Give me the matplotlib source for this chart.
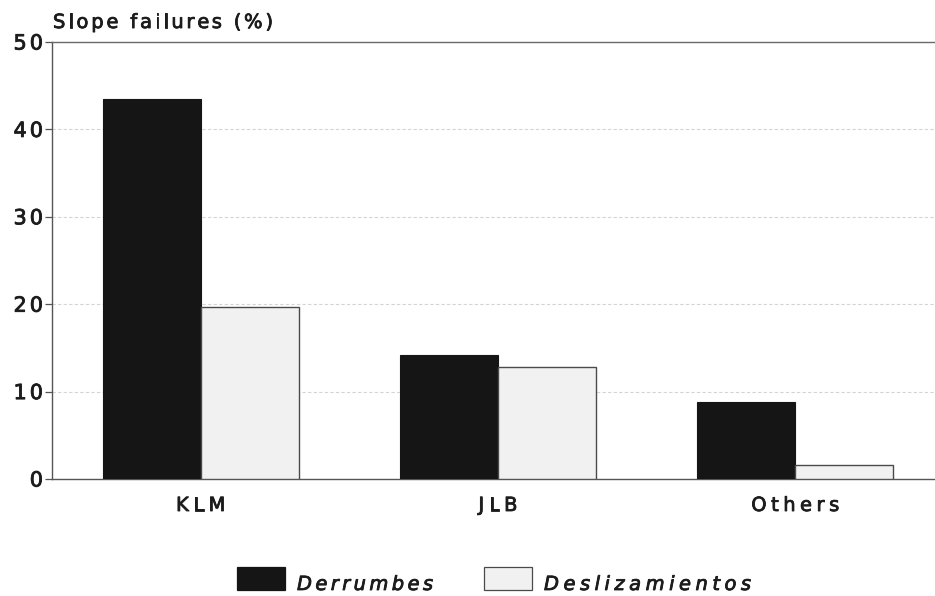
import matplotlib
matplotlib.use("Agg")
import matplotlib.pyplot as plt
import matplotlib.patheffects as pe
from matplotlib.font_manager import FontProperties
from matplotlib.patches import Rectangle
import numpy as np

categories = ["KLM", "JLB", "Others"]
derrumbes = [43.5, 14.2, 8.8]
deslizamientos = [19.7, 12.8, 1.6]
yticks = [0, 10, 20, 30, 40, 50]
series_names = ["Derrumbes", "Deslizamientos"]

W, H = 935, 596
TEXT_COLOR = "#1c1c1c"
DARK = "#151515"
LIGHT = "#f1f1f1"
EDGE = "#4a4a4a"

plt.rcParams["font.family"] = ["DejaVu Sans"]

fig = plt.figure(figsize=(W / 100, H / 100), dpi=100)
ax = fig.add_axes([52 / W, 1 - 479 / H, (W - 52) / W, (479 - 42) / H])
renderer = fig.canvas.get_renderer()


def px_to_fig(x, y):
    return x / W, 1 - y / H


def spaced_text(x, y, s, size, ha="left", style="normal", track=3.5):
    """Draw a string with extra letter spacing; x, y in pixels from top-left,
    y is the baseline."""
    prop = FontProperties(family="DejaVu Sans", size=size, style=style)

    def width(t):
        w, _, _ = renderer.get_text_width_height_descent(t, prop, ismath=False)
        return w

    ref = width("H")
    offsets = [width(s[:i] + "H") - ref if i else 0.0 for i in range(len(s))]
    offsets = [o + i * track for i, o in enumerate(offsets)]
    total = offsets[-1] + width(s[-1])
    if ha == "center":
        x0 = x - total / 2
    elif ha == "right":
        x0 = x - total
    else:
        x0 = x
    for ch, o in zip(s, offsets):
        if ch == " ":
            continue
        fx, fy = px_to_fig(x0 + o, y)
        fig.text(fx, fy, ch, fontproperties=prop, color=TEXT_COLOR,
                 ha="left", va="baseline",
                 path_effects=[pe.withStroke(linewidth=0.6, foreground=TEXT_COLOR)])


x = np.arange(len(categories))
w = 0.33
ax.bar(x - w / 2, derrumbes, width=w, color=DARK, edgecolor=DARK,
       linewidth=0.8, zorder=3)
ax.bar(x + w / 2, deslizamientos, width=w, color=LIGHT, edgecolor=EDGE,
       linewidth=1.0, zorder=3)

ax.set_xlim(-0.5, 2.47)
ax.set_ylim(0, 50)
ax.set_yticks(yticks)
ax.set_yticklabels([])
ax.set_xticks(x)
ax.set_xticklabels([])
ax.tick_params(axis="x", length=0)
ax.tick_params(axis="y", length=5, width=0.9, color="#555555")

for v in yticks[1:-1]:
    ax.axhline(v, color="#d4d4d4", linewidth=0.8, linestyle=(0, (3, 2)), zorder=1)

ax.spines["right"].set_visible(False)
ax.spines["top"].set_color("#6a6a6a")
ax.spines["left"].set_color("#555555")
ax.spines["bottom"].set_color("#555555")
for s in ("top", "left", "bottom"):
    ax.spines[s].set_linewidth(1.0)

# tick labels with letter spacing
for t in yticks:
    _, py = ax.transData.transform((0, t))
    spaced_text(43, H - py + 7.5, str(t), 15, ha="right", track=3.0)
for xi, name in zip(x, categories):
    px, _ = ax.transData.transform((xi, 0))
    spaced_text(px, 511, name, 14, ha="center", track=4.5)

# title
spaced_text(53, 28, "Slope failures (%)", 14, track=2.8)

# legend
legend_items = [(237, DARK, DARK, 3.4), (484, LIGHT, EDGE, 4.5)]
for (lx, face, edge, trk), name in zip(legend_items, series_names):
    fx, fy = px_to_fig(lx, 590)
    fig.patches.append(Rectangle((fx, fy), 48 / W, 23 / H, transform=fig.transFigure,
                                 facecolor=face, edgecolor=edge, linewidth=0.9))
    spaced_text(lx + 60, 590, name, 14, style="italic", track=trk)

fig.savefig("out.png", dpi=100)
